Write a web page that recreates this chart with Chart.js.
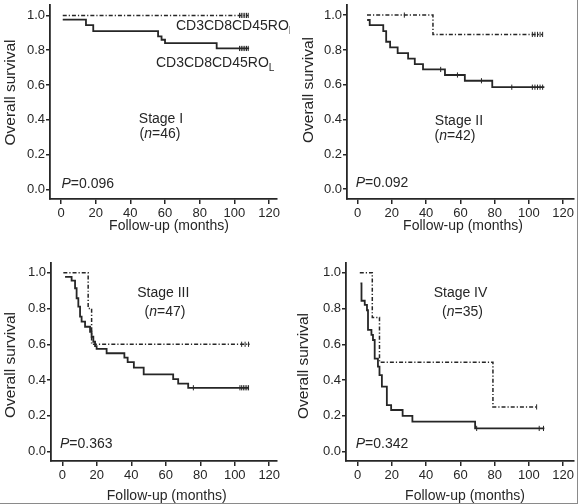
<!DOCTYPE html>
<html>
<head>
<meta charset="utf-8">
<script src="https://cdn.jsdelivr.net/npm/chart.js@4.4.1/dist/chart.umd.min.js"></script>
<style>
  body { margin: 0; background: #fff; }
  #wrap { position: relative; width: 579px; height: 504px; overflow: hidden; background: #fff; }
  #wrap canvas { position: absolute; }
  #frame { position: absolute; left: 0; top: 0; width: 577px; height: 503px;
           border-right: 1px solid #8a8a8a; border-bottom: 1px solid #8a8a8a; pointer-events: none; }
</style>
</head>
<body>
<div id="wrap">
  <canvas id="c1" width="290" height="250" style="left:0;top:0"></canvas>
  <canvas id="c2" width="289" height="250" style="left:290px;top:0"></canvas>
  <canvas id="c3" width="290" height="254" style="left:0;top:250px"></canvas>
  <canvas id="c4" width="289" height="254" style="left:290px;top:250px"></canvas>
  <div id="frame"></div>
</div>
<script>
// tick labels
const xTicks = [0, 20, 40, 60, 80, 100, 120];
const yTicks = [0, 0.2, 0.4, 0.6, 0.8, 1.0];

// Stage I  (H = dash-dot, L = solid)
const s1HTime = [1, 108];
const s1HSurv = [1, 1];
const s1HCensT = [103, 104, 105, 106, 107, 108];
const s1HCensS = [1, 1, 1, 1, 1, 1];
const s1LTime = [1, 14.4, 18.6, 56, 58, 60, 89.8, 108.5];
const s1LSurv = [0.976, 0.944, 0.91, 0.879, 0.86, 0.841, 0.81, 0.81];
const s1LCensT = [103, 104, 105, 106, 107, 108];
const s1LCensS = [0.81, 0.81, 0.81, 0.81, 0.81, 0.81];

// Stage II
const s2HTime = [5.5, 44, 108];
const s2HSurv = [1, 0.889, 0.889];
const s2HCensT = [27.3, 102, 103.5, 105, 106.5, 108];
const s2HCensS = [1, 0.889, 0.889, 0.889, 0.889, 0.889];
const s2LTime = [5.6, 7.1, 15, 16.7, 19, 23.4, 29.5, 33.4, 38.2, 51, 62.6, 78.6, 109];
const s2LSurv = [0.972, 0.942, 0.908, 0.847, 0.815, 0.782, 0.75, 0.718, 0.688, 0.656, 0.623, 0.586, 0.586];
const s2LCensT = [48.5, 58.3, 72.3, 90, 102, 103.5, 105, 106.5, 108];
const s2LCensS = [0.688, 0.656, 0.623, 0.586, 0.586, 0.586, 0.586, 0.586, 0.586];

// Stage III
const s3HTime = [0.6, 15, 17, 108.8];
const s3HSurv = [1, 0.8, 0.6, 0.6];
const s3HCensT = [104, 106, 108];
const s3HCensS = [0.6, 0.6, 0.6];
const s3LTime = [1.6, 5.4, 7.4, 8.3, 9.3, 10.3, 11.2, 13.2, 16.1, 17, 18, 19, 19.9, 25.7, 36, 37.9, 41.5, 47.2, 64.3, 67.2, 73, 108];
const s3LSurv = [0.977, 0.955, 0.913, 0.857, 0.81, 0.754, 0.726, 0.698, 0.67, 0.642, 0.614, 0.59, 0.574, 0.55, 0.525, 0.5, 0.47, 0.432, 0.405, 0.38, 0.357, 0.357];
const s3LCensT = [76, 103, 104, 105, 106, 107, 108];
const s3LCensS = [0.357, 0.357, 0.357, 0.357, 0.357, 0.357, 0.357];

// Stage IV
const s4HTime = [1.3, 8.6, 12.8, 79, 105];
const s4HSurv = [1, 0.75, 0.5, 0.25, 0.25];
const s4HCensT = [104.5];
const s4HCensS = [0.25];
const s4LTime = [1.7, 2.3, 4.2, 5.5, 6.1, 8.1, 9, 10, 11.9, 12.8, 14.2, 17.1, 19.6, 26.3, 32, 68.6, 109];
const s4LSurv = [0.94, 0.843, 0.82, 0.79, 0.68, 0.652, 0.624, 0.52, 0.475, 0.428, 0.363, 0.26, 0.233, 0.2, 0.168, 0.13, 0.13];
const s4LCensT = [69.5, 106, 108.5];
const s4LCensS = [0.13, 0.13, 0.13];

const INK = '#262626';
const FONT = '"Liberation Sans", Arial, Helvetica, sans-serif';

function pts(t, s) {
  return t.map((v, i) => ({ x: v, y: s[i] }));
}

function kmLine(t, s, dashed) {
  return {
    data: pts(t, s),
    showLine: true,
    stepped: 'before',
    borderColor: INK,
    borderWidth: dashed ? 1.5 : 1.8,
    borderDash: dashed ? [4, 2, 1.2, 2] : [],
    pointRadius: 0,
    fill: false
  };
}

function censors(t, s) {
  return {
    data: pts(t, s),
    showLine: false,
    pointStyle: 'line',
    rotation: 90,
    pointRadius: 2.6,
    borderColor: INK,
    borderWidth: 1
  };
}

// writes text runs: [text, style] where style is '', 'i' or 'sub'
function textPlugin(items) {
  return {
    id: 'panelText',
    afterDraw(chart) {
      const ctx = chart.ctx;
      ctx.save();
      ctx.fillStyle = INK;
      ctx.textBaseline = 'alphabetic';
      items.forEach(it => {
        const size = it.size || 14;
        const fontOf = st => (st === 'i' ? 'italic ' : '') + (st === 'sub' ? size * 0.72 : size) + 'px ' + FONT;
        let w = 0;
        it.runs.forEach(r => { ctx.font = fontOf(r[1]); w += ctx.measureText(r[0]).width; });
        ctx.save();
        ctx.translate(it.x, it.y);
        if (it.rot) ctx.rotate(it.rot);
        let x = it.align === 'center' ? -w / 2 : 0;
        ctx.textAlign = 'left';
        it.runs.forEach(r => {
          ctx.font = fontOf(r[1]);
          ctx.fillText(r[0], x, r[1] === 'sub' ? size * 0.3 : 0);
          x += ctx.measureText(r[0]).width;
        });
        ctx.restore();
      });
      ctx.restore();
    }
  };
}

function makePanel(id, p) {
  const tickFont = { family: FONT, size: 13 };
  new Chart(document.getElementById(id), {
    type: 'scatter',
    data: { datasets: p.datasets },
    options: {
      responsive: false,
      animation: false,
      events: [],
      layout: { padding: { top: p.top, right: p.right, left: 0, bottom: 0 } },
      plugins: { legend: { display: false }, tooltip: { enabled: false } },
      scales: {
        x: {
          type: 'linear',
          min: p.xMin, max: p.xMax,
          afterBuildTicks: s => { s.ticks = xTicks.map(v => ({ value: v })); },
          afterFit: s => { s.height = p.xH; s.paddingLeft = 0; s.paddingRight = 0; },
          ticks: { font: tickFont, color: INK, padding: 2, maxRotation: 0, autoSkip: false },
          grid: { drawOnChartArea: false, drawTicks: true, tickLength: 5, color: INK, lineWidth: 1.5 },
          border: { display: true, color: INK, width: 1.8 }
        },
        y: {
          type: 'linear',
          min: p.yMin, max: p.yMax,
          afterBuildTicks: s => { s.ticks = yTicks.map(v => ({ value: v })); },
          afterFit: s => { s.width = p.yW; s.paddingTop = 0; s.paddingBottom = 0; },
          ticks: { font: tickFont, color: INK, padding: 1, callback: v => v.toFixed(1) },
          grid: { drawOnChartArea: false, drawTicks: true, tickLength: 4, color: INK, lineWidth: 1.5 },
          border: { display: true, color: INK, width: 1.8 }
        }
      }
    },
    plugins: [textPlugin(p.text)]
  });
}

const HALF = -Math.PI / 2;

makePanel('c1', {
  top: 0, right: 13, yW: 50, xH: 51,
  xMin: -6.35, xMax: 124.6, yMin: -0.056, yMax: 1.06,
  datasets: [
    kmLine(s1HTime, s1HSurv, true), censors(s1HCensT, s1HCensS),
    kmLine(s1LTime, s1LSurv, false), censors(s1LCensT, s1LCensS)
  ],
  text: [
    { x: 176, y: 30, runs: [['CD3CD8CD45RO', ''], ['H', 'sub']] },
    { x: 156, y: 66.5, runs: [['CD3CD8CD45RO', ''], ['L', 'sub']] },
    { x: 161, y: 122.5, align: 'center', runs: [['Stage I', '']] },
    { x: 160, y: 137.5, align: 'center', runs: [['(', ''], ['n', 'i'], ['=46)', '']] },
    { x: 61.5, y: 187.5, runs: [['P', 'i'], ['=0.096', '']] },
    { x: 15, y: 92.5, rot: HALF, size: 15.5, align: 'center', runs: [['Overall survival', '']] },
    { x: 169, y: 230, align: 'center', runs: [['Follow-up (months)', '']] }
  ]
});

makePanel('c2', {
  top: 0, right: 2, yW: 57, xH: 51,
  xMin: -6.16, xMax: 126.3, yMin: -0.056, yMax: 1.058,
  datasets: [
    kmLine(s2HTime, s2HSurv, true), censors(s2HCensT, s2HCensS),
    kmLine(s2LTime, s2LSurv, false), censors(s2LCensT, s2LCensS)
  ],
  text: [
    { x: 169, y: 125, align: 'center', runs: [['Stage II', '']] },
    { x: 165, y: 140, align: 'center', runs: [['(', ''], ['n', 'i'], ['=42)', '']] },
    { x: 65.7, y: 187.3, runs: [['P', 'i'], ['=0.092', '']] },
    { x: 22.5, y: 90, rot: HALF, size: 15.5, align: 'center', runs: [['Overall survival', '']] },
    { x: 173, y: 230, align: 'center', runs: [['Follow-up (months)', '']] }
  ]
});

makePanel('c3', {
  top: 13, right: 13, yW: 51, xH: 43,
  xMin: -6.55, xMax: 124.5, yMin: -0.052, yMax: 1.054,
  datasets: [
    kmLine(s3HTime, s3HSurv, true), censors(s3HCensT, s3HCensS),
    kmLine(s3LTime, s3LSurv, false), censors(s3LCensT, s3LCensS)
  ],
  text: [
    { x: 163.3, y: 47.3, align: 'center', runs: [['Stage III', '']] },
    { x: 165, y: 65.7, align: 'center', runs: [['(', ''], ['n', 'i'], ['=47)', '']] },
    { x: 60, y: 197.7, runs: [['P', 'i'], ['=0.363', '']] },
    { x: 15, y: 115, rot: HALF, size: 15.5, align: 'center', runs: [['Overall survival', '']] },
    { x: 166.7, y: 250, align: 'center', runs: [['Follow-up (months)', '']] }
  ]
});

makePanel('c4', {
  top: 13, right: 2, yW: 56, xH: 43,
  xMin: -6.74, xMax: 126.3, yMin: -0.052, yMax: 1.054,
  datasets: [
    kmLine(s4HTime, s4HSurv, true), censors(s4HCensT, s4HCensS),
    kmLine(s4LTime, s4LSurv, false), censors(s4LCensT, s4LCensS)
  ],
  text: [
    { x: 170.5, y: 47.3, align: 'center', runs: [['Stage IV', '']] },
    { x: 172.5, y: 65.7, align: 'center', runs: [['(', ''], ['n', 'i'], ['=35)', '']] },
    { x: 65.7, y: 197.7, runs: [['P', 'i'], ['=0.342', '']] },
    { x: 18.3, y: 116, rot: HALF, size: 15.5, align: 'center', runs: [['Overall survival', '']] },
    { x: 175, y: 250, align: 'center', runs: [['Follow-up (months)', '']] }
  ]
});
</script>
</body>
</html>
